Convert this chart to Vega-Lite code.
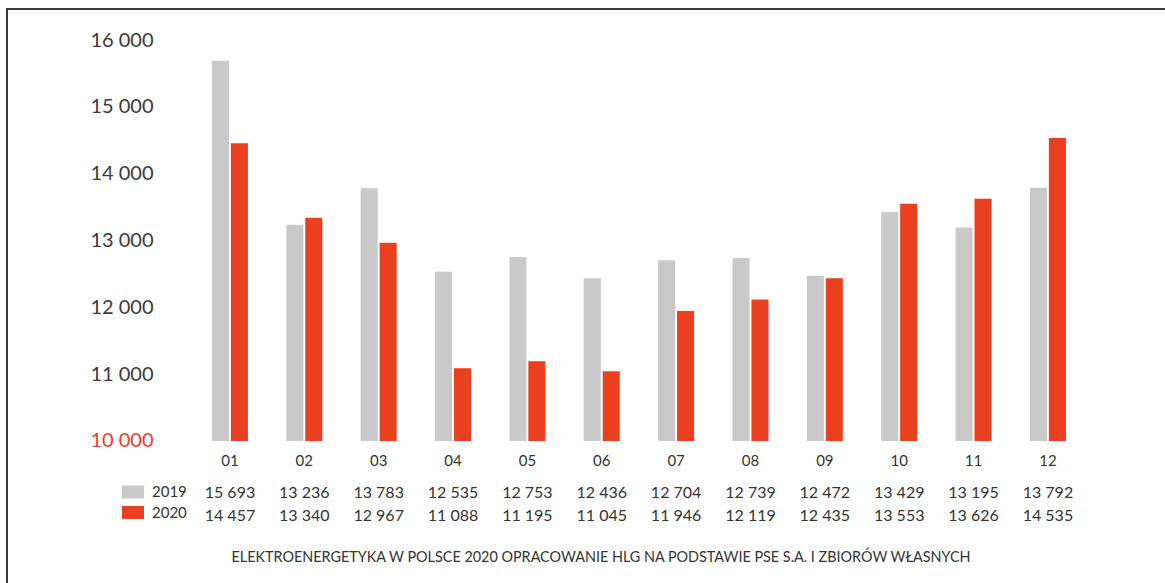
{
  "$schema": "https://vega.github.io/schema/vega-lite/v6.json",
  "autosize": {"type": "none"},
  "padding": {"left": 7, "top": 9, "right": -12, "bottom": -6},
  "width": 1170,
  "height": 580,
  "background": "white",
  "config": {
    "locale": {"number": {"decimal": ",", "thousands": " ", "grouping": [3], "currency": ["", ""]}},
    "view": {"stroke": "#3a3a3a", "strokeWidth": 2},
    "font": "Lato"
  },
  "title": {
    "text": "ELEKTROENERGETYKA W POLSCE 2020 OPRACOWANIE HLG NA PODSTAWIE PSE S.A. I ZBIORÓW WŁASNYCH",
    "orient": "bottom",
    "anchor": "middle",
    "offset": -38,
    "dx": 9,
    "fontSize": 14.4,
    "fontWeight": "normal",
    "color": "#333333",
    "font": "Lato"
  },
  "data": {
    "values": [
      {"month": "01", "year": "2019", "value": 15693},
      {"month": "02", "year": "2019", "value": 13236},
      {"month": "03", "year": "2019", "value": 13783},
      {"month": "04", "year": "2019", "value": 12535},
      {"month": "05", "year": "2019", "value": 12753},
      {"month": "06", "year": "2019", "value": 12436},
      {"month": "07", "year": "2019", "value": 12704},
      {"month": "08", "year": "2019", "value": 12739},
      {"month": "09", "year": "2019", "value": 12472},
      {"month": "10", "year": "2019", "value": 13429},
      {"month": "11", "year": "2019", "value": 13195},
      {"month": "12", "year": "2019", "value": 13792},
      {"month": "01", "year": "2020", "value": 14457},
      {"month": "02", "year": "2020", "value": 13340},
      {"month": "03", "year": "2020", "value": 12967},
      {"month": "04", "year": "2020", "value": 11088},
      {"month": "05", "year": "2020", "value": 11195},
      {"month": "06", "year": "2020", "value": 11045},
      {"month": "07", "year": "2020", "value": 11946},
      {"month": "08", "year": "2020", "value": 12119},
      {"month": "09", "year": "2020", "value": 12435},
      {"month": "10", "year": "2020", "value": 13553},
      {"month": "11", "year": "2020", "value": 13626},
      {"month": "12", "year": "2020", "value": 14535}
    ]
  },
  "encoding": {
    "x": {
      "field": "month",
      "type": "nominal",
      "scale": {
        "domain": ["_a", "_b", "01", "02", "03", "04", "05", "06", "07", "08", "09", "10", "11", "12", "_c"],
        "paddingInner": 0.516,
        "paddingOuter": 0.625,
        "align": 0.605
      },
      "axis": {
        "values": ["01", "02", "03", "04", "05", "06", "07", "08", "09", "10", "11", "12"],
        "title": null,
        "labelAngle": 0,
        "domain": false,
        "ticks": false,
        "tickSize": 0,
        "offset": -148,
        "labelPadding": 12,
        "labelFontSize": 15,
        "labelColor": "#333333",
        "labelFont": "Lato"
      }
    }
  },
  "layer": [
    {
      "mark": {"type": "bar"},
      "encoding": {
        "xOffset": {"field": "year", "type": "nominal", "scale": {"paddingInner": 0.1, "paddingOuter": 0}},
        "y": {
          "field": "value",
          "type": "quantitative",
          "scale": {"domain": [7784, 16467], "nice": false, "zero": false},
          "axis": {
            "values": [10000, 11000, 12000, 13000, 14000, 15000, 16000],
            "format": ",d",
            "title": null,
            "grid": false,
            "domain": false,
            "ticks": false,
            "tickSize": 0,
            "offset": -146,
            "labelPadding": 0,
            "labelFontSize": 20,
            "labelFont": "Lato",
            "labelColor": {"condition": {"test": "datum.value == 10000", "value": "#e8402a"}, "value": "#3a3a3a"}
          }
        },
        "y2": {"datum": 10000},
        "color": {
          "field": "year",
          "type": "nominal",
          "scale": {"domain": ["2019", "2020"], "range": ["#c9c9c9", "#ea4020"]},
          "legend": {
            "orient": "none",
            "legendX": 115,
            "legendY": 472,
            "title": null,
            "padding": 0,
            "symbolType": "M-1,-0.59H1V0.59H-1Z",
            "symbolSize": 484,
            "symbolStrokeWidth": 0,
            "labelFontSize": 15,
            "labelFont": "Lato",
            "labelColor": "#333333",
            "labelOffset": 8,
            "rowPadding": 1.5
          }
        }
      }
    },
    {
      "transform": [{"filter": "datum.year == '2019'"}],
      "mark": {"type": "text", "dy": 52, "fontSize": 16, "color": "#333333", "baseline": "middle", "font": "Lato"},
      "encoding": {
        "y": {"datum": 10000, "type": "quantitative"},
        "text": {"field": "value", "type": "quantitative", "format": ",d"}
      }
    },
    {
      "transform": [{"filter": "datum.year == '2020'"}],
      "mark": {"type": "text", "dy": 75, "fontSize": 16, "color": "#333333", "baseline": "middle", "font": "Lato"},
      "encoding": {
        "y": {"datum": 10000, "type": "quantitative"},
        "text": {"field": "value", "type": "quantitative", "format": ",d"}
      }
    }
  ]
}
